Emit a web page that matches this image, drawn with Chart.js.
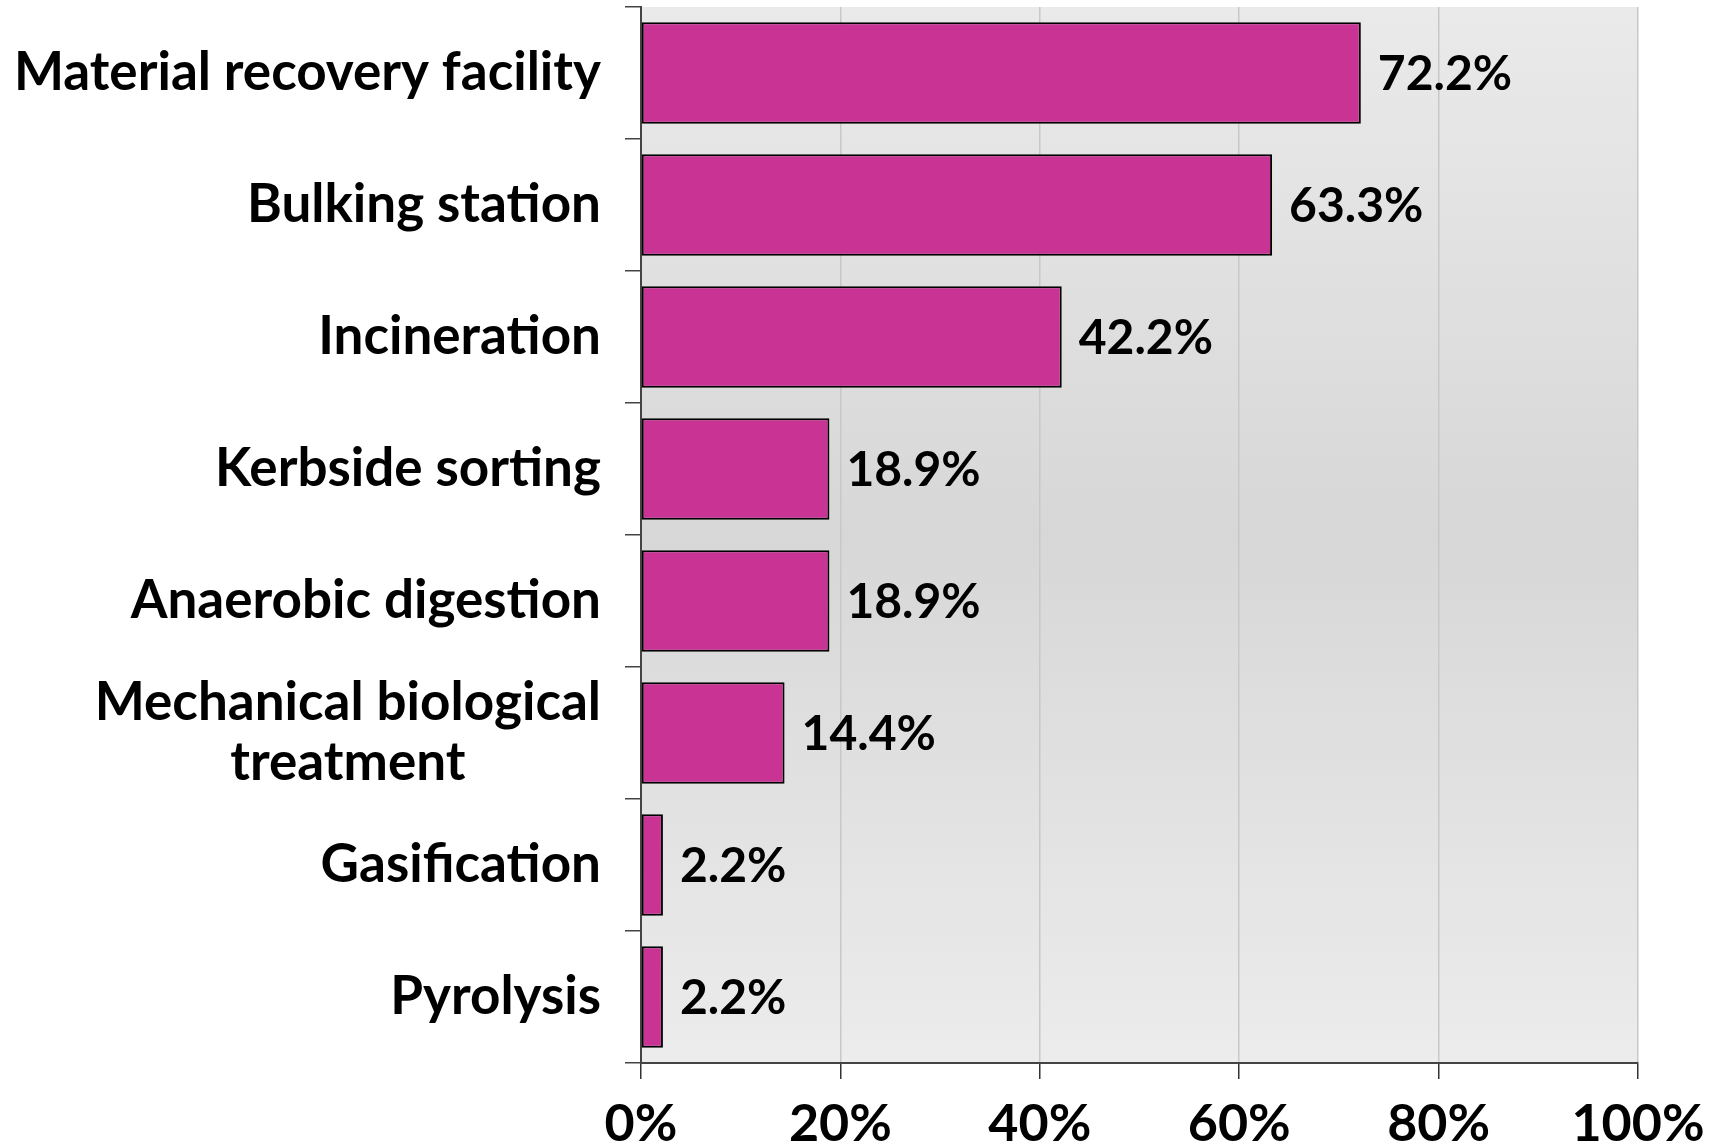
<!DOCTYPE html>
<html>
<head>
<meta charset="utf-8">
<script src="https://cdn.jsdelivr.net/npm/chart.js@4.4.1/dist/chart.umd.min.js"></script>
<style>
    html, body { margin: 0; padding: 0; background: #fff; }
    #wrap { width: 1720px; height: 1148px; position: relative; }
</style>
</head>
<body>
<div id="wrap"><canvas id="chart-facilities"></canvas></div>
<script>
const categories = [
    'Material recovery facility',
    'Bulking station',
    'Incineration',
    'Kerbside sorting',
    'Anaerobic digestion',
    ['Mechanical biological', 'treatment'],
    'Gasification',
    'Pyrolysis'
];
const shares = [72.2, 63.3, 42.2, 18.9, 18.9, 14.4, 2.2, 2.2];
const xTicks = [0, 20, 40, 60, 80, 100];

const barColor = '#C93394';
const labelFont = 'Lato, "Open Sans", sans-serif';

// grey panel behind the bars, lighter at top and bottom
const panelBackground = {
    id: 'panelBackground',
    beforeDraw(chart) {
        const { ctx, chartArea: a } = chart;
        const g = ctx.createLinearGradient(0, a.top, 0, a.bottom);
        g.addColorStop(0, '#eaeaea');
        g.addColorStop(0.5, '#d7d7d7');
        g.addColorStop(1, '#ececec');
        ctx.save();
        ctx.fillStyle = g;
        ctx.fillRect(a.left, a.top, a.right - a.left, a.bottom - a.top);
        ctx.restore();
    }
};

// category names: right aligned, wrapped lines centred on each other
const categoryLabels = {
    id: 'categoryLabels',
    afterDraw(chart) {
        const { ctx } = chart;
        const yScale = chart.scales.y;
        const right = yScale.right - 16 - 24;
        const lineH = 60;
        ctx.save();
        ctx.font = 'bold 53px ' + labelFont;
        ctx.fillStyle = '#000';
        ctx.textBaseline = 'middle';
        categories.forEach((cat, i) => {
            const y = yScale.getPixelForValue(i);
            const lines = Array.isArray(cat) ? cat : [cat];
            const widest = Math.max(...lines.map(l => ctx.measureText(l).width));
            const cx = right - widest / 2;
            ctx.textAlign = 'center';
            lines.forEach((l, j) => {
                ctx.fillText(l, cx, y + (j - (lines.length - 1) / 2) * lineH);
            });
        });
        ctx.restore();
    }
};

// value labels just past the end of each bar
const valueLabels = {
    id: 'valueLabels',
    afterDatasetsDraw(chart) {
        const { ctx } = chart;
        const meta = chart.getDatasetMeta(0);
        ctx.save();
        ctx.font = 'bold 48px ' + labelFont;
        ctx.fillStyle = '#000';
        ctx.textAlign = 'left';
        ctx.textBaseline = 'middle';
        meta.data.forEach((bar, i) => {
            ctx.fillText(shares[i].toFixed(1) + '%', bar.x + 17, bar.y + 2);
        });
        ctx.restore();
    }
};

new Chart(document.getElementById('chart-facilities'), {
    type: 'bar',
    data: {
        labels: categories.map(c => Array.isArray(c) ? c.join(' ') : c),
        datasets: [{
            data: shares,
            backgroundColor: barColor,
            borderColor: '#000',
            borderWidth: 2,
            borderSkipped: false,
            barPercentage: 0.77,
            categoryPercentage: 1.0
        }]
    },
    options: {
        indexAxis: 'y',
        responsive: true,
        maintainAspectRatio: false,
        animation: false,
        layout: {
            padding: { top: 7, right: 82, left: 0, bottom: 0 }
        },
        scales: {
            x: {
                min: 0,
                max: 100,
                afterBuildTicks(scale) {
                    scale.ticks = xTicks.map(v => ({ value: v }));
                },
                afterFit(scale) {
                    scale.height = 85;
                },
                grid: {
                    color: '#c8c8c8',
                    lineWidth: 1.5,
                    tickColor: '#333',
                    tickLength: 16
                },
                border: { color: '#444', width: 2 },
                ticks: {
                    padding: 14,
                    color: '#000',
                    font: { family: labelFont, size: 52, weight: 'bold' },
                    callback: v => v + '%'
                }
            },
            y: {
                afterFit(scale) {
                    scale.width = 641;
                },
                grid: {
                    offset: true,
                    drawOnChartArea: false,
                    color: '#444',
                    lineWidth: 1.5,
                    tickLength: 16
                },
                border: { color: '#444', width: 2 },
                ticks: { display: false }
            }
        },
        plugins: {
            legend: { display: false },
            tooltip: { enabled: false }
        }
    },
    plugins: [panelBackground, categoryLabels, valueLabels]
});
</script>
</body>
</html>
